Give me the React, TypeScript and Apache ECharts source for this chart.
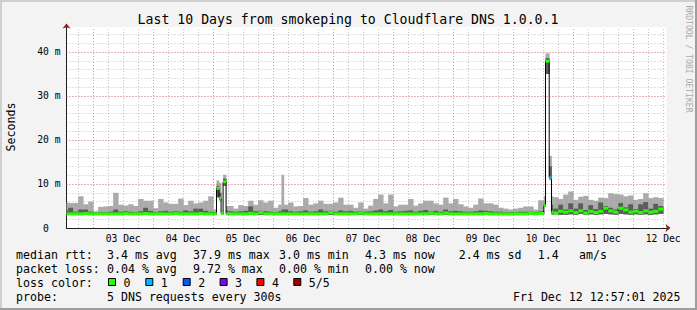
import React, { useEffect, useRef } from 'react';
import * as echarts from 'echarts';

// ---- time buckets (hours since 02 Dec 00:00) ----
const bucketStart = [
  12, 14, 16, 18, 20, 22, 24, 26, 28, 30, 32, 34, 36, 38, 40, 42, 44, 46, 48, 50, 52, 54, 56, 58, 60, 62, 64, 66, 68, 70,
  72, 73.33, 74.37, 75.17, 75.97, 77.17,
  78, 80, 82, 84, 86, 88, 90, 92, 94, 96,
  98, 99.3, 100.25,
  102, 104, 106, 108, 110, 112, 114, 116, 118, 120, 122, 124, 126, 128, 130, 132, 134, 136, 138, 140,
  142, 144, 146, 148, 150, 152, 154, 156, 158, 160, 162, 164, 166, 168, 170, 172, 174, 176, 178, 180,
  182, 184, 186, 188, 190, 192, 194, 196, 198, 200, 202,
  204.25, 204.93, 206.41, 207.33,
  208, 210, 212, 214, 216, 218, 220, 222, 224, 226, 228, 230, 232, 234, 236, 238, 240, 242, 244, 246, 248, 250,
];
const dataEnd = 252;

// smoke bottom (lowest ping), ms
const rttMin = [
  3.0, 3.0, 3.0, 3.0, 3.0, 3.0, 3.0, 3.0, 3.0, 3.0, 3.0, 3.0, 3.0, 3.0, 3.0, 3.0, 3.0, 3.0, 3.0, 3.0, 3.0, 3.0, 3.0, 3.0, 3.0, 3.0, 3.0, 3.0, 3.0, 3.0,
  3.0, 7.0, 6.3, 3.1, 9.6, 3.0,
  3.0, 3.0, 3.0, 3.0, 3.0, 3.0, 3.0, 3.0, 3.0, 3.0,
  3.0, 3.0, 3.0,
  3.0, 3.0, 3.0, 3.0, 3.0, 3.0, 3.0, 3.0, 3.0, 3.0, 3.0, 3.0, 3.0, 3.0, 3.0, 3.0, 3.0, 3.0, 3.0, 3.0,
  3.0, 3.0, 3.0, 3.0, 3.0, 3.0, 3.0, 3.0, 3.0, 3.0, 3.0, 3.0, 3.0, 3.0, 3.0, 3.0, 3.0, 3.0, 3.0, 3.0,
  3.0, 3.0, 3.0, 3.0, 3.0, 3.0, 3.0, 3.0, 3.0, 3.0, 3.0,
  4.8, 35.0, 11.0, 3.0,
  3.1, 3.0, 3.0, 3.1, 3.0, 3.2, 3.0, 3.1, 3.0, 3.1, 3.2, 3.1, 3.0, 3.2, 3.1, 3.0, 3.1, 3.0, 3.1, 3.0, 3.1, 3.2,
];

// dark smoke top, ms
const rttHigh = [
  4.0, 4.6, 3.7, 4.2, 4.2, 3.7, 3.5, 3.6, 3.6, 3.7, 4.2, 3.7, 3.8, 3.7, 3.6, 3.8, 4.6, 3.9, 3.6, 3.8, 3.9, 3.7, 3.8, 3.7, 4.0, 3.8, 4.4, 4.4, 3.9, 3.7,
  3.6, 9.6, 8.0, 3.5, 11.2, 4.0,
  3.8, 3.7, 3.8, 3.9, 4.9, 3.8, 3.9, 3.8, 3.7, 3.6,
  3.8, 4.2, 4.2,
  3.8, 3.7, 3.8, 4.0, 3.7, 3.8, 4.2, 3.8, 3.9, 3.7, 4.0, 3.8, 3.9, 3.7, 3.8, 3.7, 3.8, 4.0, 4.2, 3.8,
  4.1, 3.7, 3.8, 3.9, 4.0, 3.7, 3.9, 4.1, 3.8, 3.9, 3.7, 4.2, 3.8, 3.9, 3.8, 3.7, 3.7, 3.8, 4.0, 3.9,
  3.8, 3.7, 3.7, 3.6, 3.6, 3.6, 3.7, 3.7, 3.7, 3.6, 3.8,
  5.5, 38.6, 14.0, 5.3,
  4.4, 5.3, 4.2, 5.6, 4.4, 5.6, 4.1, 5.2, 4.3, 5.8, 5.0, 4.6, 4.2, 5.7, 4.7, 5.4, 4.3, 5.4, 5.9, 4.4, 5.5, 5.0,
];

// light smoke top (highest ping), ms
const rttMax = [
  5.8, 5.7, 5.7, 7.2, 5.4, 6.0, 3.8, 4.8, 4.9, 5.0, 8.0, 5.3, 5.1, 5.4, 5.0, 6.6, 6.2, 6.2, 4.5, 6.6, 5.8, 5.5, 5.5, 6.7, 5.2, 6.2, 5.6, 5.8, 6.2, 7.2,
  4.2, 10.8, 10.2, 3.6, 12.1, 5.0,
  5.0, 4.4, 5.2, 5.0, 6.2, 5.3, 6.3, 5.8, 6.2, 4.6,
  5.3, 12.1, 5.3,
  5.8, 4.9, 5.0, 6.8, 5.3, 5.6, 6.2, 5.5, 5.5, 5.8, 6.9, 5.3, 5.3, 4.6, 5.8, 4.4, 5.1, 6.6, 7.6, 5.6,
  7.6, 4.9, 5.3, 5.3, 6.6, 5.1, 5.6, 6.2, 6.2, 5.6, 5.3, 6.9, 5.6, 6.6, 5.4, 4.9, 4.6, 5.3, 6.7, 5.6,
  5.6, 5.3, 4.6, 4.4, 4.2, 4.4, 4.6, 4.9, 4.9, 4.2, 6.3,
  7.2, 39.7, 16.4, 7.2,
  7.0, 6.6, 7.6, 8.3, 6.4, 7.1, 7.3, 6.4, 6.2, 6.9, 6.8, 7.9, 7.7, 7.6, 7.2, 7.4, 6.4, 6.6, 7.9, 6.8, 7.0, 6.8,
];

// median rtt, ms
const rttMed = [
  3.2, 3.2, 3.2, 3.2, 3.3, 3.2, 3.2, 3.2, 3.2, 3.2, 3.2, 3.2, 3.3, 3.2, 3.2, 3.2, 3.3, 3.2, 3.2, 3.2, 3.2, 3.2, 3.3, 3.2, 3.2, 3.2, 3.2, 3.3, 3.2, 3.2,
  3.2, 9.0, 6.8, 3.3, 10.5, 3.2,
  3.2, 3.2, 3.2, 3.2, 3.3, 3.2, 3.5, 3.2, 3.2, 3.2,
  3.2, 3.2, 3.2,
  3.2, 3.2, 3.2, 3.2, 3.2, 3.2, 3.2, 3.2, 3.5, 3.2, 3.2, 3.2, 3.2, 3.2, 3.4, 3.2, 3.2, 3.2, 3.2, 3.2,
  3.2, 3.2, 3.2, 3.2, 3.2, 3.2, 3.2, 3.2, 3.4, 3.2, 3.2, 3.4, 3.2, 3.2, 3.2, 3.2, 3.2, 3.2, 3.2, 3.3,
  3.2, 3.2, 3.2, 3.2, 3.2, 3.2, 3.2, 3.2, 3.3, 3.2, 3.3,
  5.1, 37.9, 11.4, 3.6,
  3.4, 3.8, 3.6, 3.9, 3.5, 3.9, 3.4, 3.8, 3.5, 3.8, 4.5, 3.9, 3.6, 4.5, 4.1, 3.6, 3.8, 3.5, 3.9, 3.6, 3.8, 4.3,
];

// lost pings (of 5) per bucket
const lossCount = [
  0, 0, 0, 0, 0, 0, 0, 0, 0, 0, 0, 0, 0, 0, 0, 0, 0, 0, 0, 0, 0, 0, 0, 0, 0, 0, 0, 0, 0, 0,
  0, 0, 0, 0, 0, 0,
  0, 0, 0, 0, 0, 0, 0, 0, 0, 0,
  0, 0, 0,
  0, 0, 0, 0, 0, 0, 0, 0, 0, 0, 0, 0, 0, 0, 0, 0, 0, 0, 0, 0,
  0, 0, 0, 0, 0, 0, 0, 0, 0, 0, 0, 0, 0, 0, 0, 0, 0, 0, 0, 0,
  0, 0, 0, 0, 0, 0, 0, 0, 0, 0, 0,
  0, 0, 1, 0,
  0, 0, 0, 0, 0, 0, 0, 0, 0, 0, 0, 0, 0, 0, 0, 0, 0, 0, 0, 0, 0, 0,
];

// ---- axes ----
const xMin = 13.333;
const xMax = 253.333;
const yTop = 45.68;
const majorGridHours = [24, 48, 72, 96, 120, 144, 168, 192, 216, 240];
const minorGridHours = [18, 30, 36, 42, 54, 60, 66, 78, 84, 90, 102, 108, 114, 126, 132, 138, 150, 156, 162, 174, 180, 186, 198, 204, 210, 222, 228, 234, 246, 252];
const labelHours = [36, 60, 84, 108, 132, 156, 180, 204, 228, 252];
const dayLabels = ['03 Dec', '04 Dec', '05 Dec', '06 Dec', '07 Dec', '08 Dec', '09 Dec', '10 Dec', '11 Dec', '12 Dec'];
const majorRtt = [10, 20, 30, 40];

// ---- legend ----
const titleText = 'Last 10 Days from smokeping to Cloudflare DNS 1.0.0.1';
const rttStats = ['3.4 ms avg', '37.9 ms max', '3.0 ms min', '4.3 ms now', '2.4 ms sd', '1.4', 'am/s'];
const lossStats = ['0.04 % avg', '9.72 % max', '0.00 % min', '0.00 % now'];
const lossLabels = ['0', '1', '2', '3', '4', '5/5'];
const lossColors = ['#26ff00', '#00b8ff', '#0059ff', '#7e00ff', '#ff0000', '#a10000'];
const probeText = '5 DNS requests every 300s';
const dateText = 'Fri Dec 12 12:57:01 2025';

const MONO = '"DejaVu Sans Mono", monospace';

export default function App() {
  const ref = useRef<HTMLDivElement>(null);

  useEffect(() => {
    if (!ref.current) return;
    const chart = echarts.init(ref.current, undefined, { renderer: 'svg' });
    const n = bucketStart.length;
    const bucketEnd = bucketStart.map((s, i) => (i < n - 1 ? bucketStart[i + 1] : dataEnd));
    const smokeData = bucketStart.map((s, i) => [s, bucketEnd[i], rttMin[i], rttHigh[i], rttMax[i], rttMed[i], lossCount[i]]);
    const medianLine: number[][] = bucketStart.map((s, i) => [s, rttMed[i]]);
    medianLine.push([dataEnd, rttMed[n - 1]]);

    const gridRed = 'rgba(222,80,80,0.6)';
    const gridGrey = 'rgba(150,150,150,0.55)';

    const boxOf = (cs: any) => ({ x: cs.x, y: cs.y, width: cs.width, height: cs.height });

    const statX = [107, 193, 279, 365, 458.7, 537.8, 579];
    const squareX = [108, 145.3, 182.7, 219.6, 256.4, 293.3];
    const rowY = [254.5, 268.5, 282.5, 296.5];
    const legendFont = `11.6px ${MONO}`;
    const txt = (text: string, x: number, y: number, align = 'left') => ({
      type: 'text', x, y, silent: true,
      style: { text, font: legendFont, fill: '#000', textAlign: align, textVerticalAlign: 'middle' },
    });

    const graphic: any[] = [
      { type: 'rect', silent: true, shape: { x: 0, y: 0, width: 697, height: 2 }, style: { fill: '#cfcfcf' } },
      { type: 'rect', silent: true, shape: { x: 0, y: 0, width: 2, height: 310 }, style: { fill: '#cfcfcf' } },
      { type: 'rect', silent: true, shape: { x: 695, y: 0, width: 2, height: 310 }, style: { fill: '#9e9e9e' } },
      { type: 'rect', silent: true, shape: { x: 0, y: 308, width: 697, height: 2 }, style: { fill: '#9e9e9e' } },
      {
        type: 'text', x: 348, y: 19.5, silent: true,
        style: { text: titleText, font: `13.2px ${MONO}`, fill: '#000', textAlign: 'center', textVerticalAlign: 'middle' },
      },
      {
        type: 'text', x: 10.5, y: 127, rotation: Math.PI / 2, silent: true,
        style: { text: 'Seconds', font: legendFont, fill: '#000', textAlign: 'center', textVerticalAlign: 'middle' },
      },
      {
        type: 'text', x: 689, y: 59, rotation: -Math.PI / 2, silent: true,
        style: { text: 'RRDTOOL / TOBI OETIKER', font: `8.1px ${MONO}`, fill: '#aaaaaa', textAlign: 'center', textVerticalAlign: 'middle' },
      },
      txt('median rtt:', 16, rowY[0]),
      ...rttStats.map((s, i) => txt(s, statX[i], rowY[0])),
      txt('packet loss:', 16, rowY[1]),
      ...lossStats.map((s, i) => txt(s, statX[i], rowY[1])),
      txt('loss color:', 16, rowY[2]),
      ...lossLabels.map((s, i) => ({
        type: 'rect', silent: true,
        shape: { x: squareX[i] + 0.5, y: rowY[2] - 4, width: 7, height: 7 },
        style: { fill: lossColors[i], stroke: '#000', lineWidth: 1 },
      })),
      ...lossLabels.map((s, i) => txt(s, squareX[i] + 15.5, rowY[2])),
      txt('probe:', 16, rowY[3]),
      txt(probeText, statX[0], rowY[3]),
      txt(dateText, 680.5, rowY[3], 'right'),
    ];

    const option: any = {
      animation: false,
      backgroundColor: '#f3f3f3',
      grid: { left: 66.5, top: 27, width: 600, height: 201, show: true, backgroundColor: '#ffffff', borderWidth: 0 },
      xAxis: [
        {
          type: 'value', min: xMin, max: xMax, position: 'bottom',
          axisLine: { show: true, onZero: false, symbol: ['none', 'arrow'], symbolSize: [6, 5], symbolOffset: [0, 4], lineStyle: { color: '#7f1f1f', width: 1 } },
          axisTick: { show: false }, axisLabel: { show: false }, splitLine: { show: false },
        },
        {
          type: 'value', min: xMin, max: xMax, position: 'bottom',
          axisLine: { show: true, onZero: false, lineStyle: { color: '#202020', width: 1 } },
          axisTick: { show: false },
          axisLabel: {
            show: true, customValues: labelHours, margin: 5, color: '#000', fontFamily: MONO, fontSize: 9.7,
            formatter: (v: number) => { const i = labelHours.indexOf(Math.round(v)); return i >= 0 ? dayLabels[i] : ''; },
          },
          splitLine: { show: false },
        },
      ],
      yAxis: [
        {
          type: 'value', min: 0, max: yTop, position: 'left',
          axisLine: { show: true, onZero: false, symbol: ['none', 'arrow'], symbolSize: [6, 5], symbolOffset: [0, 3.5], lineStyle: { color: '#7f1f1f', width: 1 } },
          axisTick: { show: false }, axisLabel: { show: false }, splitLine: { show: false },
        },
        {
          type: 'value', min: 0, max: yTop, interval: 2, position: 'left',
          axisLine: { show: true, onZero: false, lineStyle: { color: '#202020', width: 1 } },
          axisTick: { show: false },
          axisLabel: {
            show: true, margin: 6, color: '#000', fontFamily: MONO, fontSize: 9.7,
            formatter: (v: number) => (v === 0 ? '0  ' : Math.abs(v % 10) < 1e-6 ? `${v} m` : ''),
          },
          splitLine: { show: true, showMinLine: false, showMaxLine: false, lineStyle: { color: gridGrey, width: 1, type: [1, 2] } },
        },
      ],
      series: [
        {
          type: 'line', data: [], z: 1, silent: true, symbol: 'none',
          markLine: {
            silent: true, symbol: ['none', 'none'], animation: false, label: { show: false },
            data: [
              ...minorGridHours.map((h) => ({ xAxis: h, lineStyle: { color: gridGrey, width: 1, type: [1, 2] } })),
              ...majorGridHours.map((h) => ({ xAxis: h, lineStyle: { color: gridRed, width: 1, type: [1, 2] } })),
              ...majorRtt.map((v) => ({ yAxis: v, lineStyle: { color: gridRed, width: 1, type: [1, 2] } })),
            ],
          },
        },
        {
          type: 'custom', z: 2, silent: true, clip: true,
          encode: { x: [0, 1], y: [2, 3, 4] },
          data: smokeData,
          renderItem: (params: any, api: any) => {
            const box = boxOf(params.coordSys);
            const a = api.coord([api.value(0), api.value(2)]);
            const c = api.coord([api.value(1), api.value(3)]);
            const b = api.coord([api.value(1), api.value(4)]);
            const light = echarts.graphic.clipRectByRect({ x: a[0], y: b[1], width: b[0] - a[0] + 0.4, height: a[1] - b[1] }, box);
            const dark = echarts.graphic.clipRectByRect({ x: a[0], y: c[1], width: c[0] - a[0] + 0.4, height: a[1] - c[1] }, box);
            const children: any[] = [];
            if (light) children.push({ type: 'rect', shape: light, style: { fill: '#aaaaaa' } });
            if (dark) children.push({ type: 'rect', shape: dark, style: { fill: '#5c5c5c' } });
            return { type: 'group', children };
          },
        },
        {
          type: 'line', z: 3, silent: true, step: 'end', symbol: 'none', data: medianLine,
          lineStyle: { color: '#000000', width: 1 },
        },
        {
          type: 'custom', z: 4, silent: true, clip: true,
          encode: { x: [0, 1], y: [5] },
          data: smokeData,
          renderItem: (params: any, api: any) => {
            const box = boxOf(params.coordSys);
            const p0 = api.coord([api.value(0), api.value(5)]);
            const p1 = api.coord([api.value(1), api.value(5)]);
            const r = echarts.graphic.clipRectByRect({ x: p0[0], y: p0[1] - 1.5, width: p1[0] - p0[0] + 0.3, height: 3 }, box);
            if (!r) return null;
            return { type: 'rect', shape: r, style: { fill: lossColors[api.value(6)] } };
          },
        },
      ],
      graphic,
    };

    chart.setOption(option);
    return () => chart.dispose();
  }, []);

  return <div ref={ref} style={{ position: 'absolute', left: 0, top: 0, width: 697, height: 310 }} />;
}
